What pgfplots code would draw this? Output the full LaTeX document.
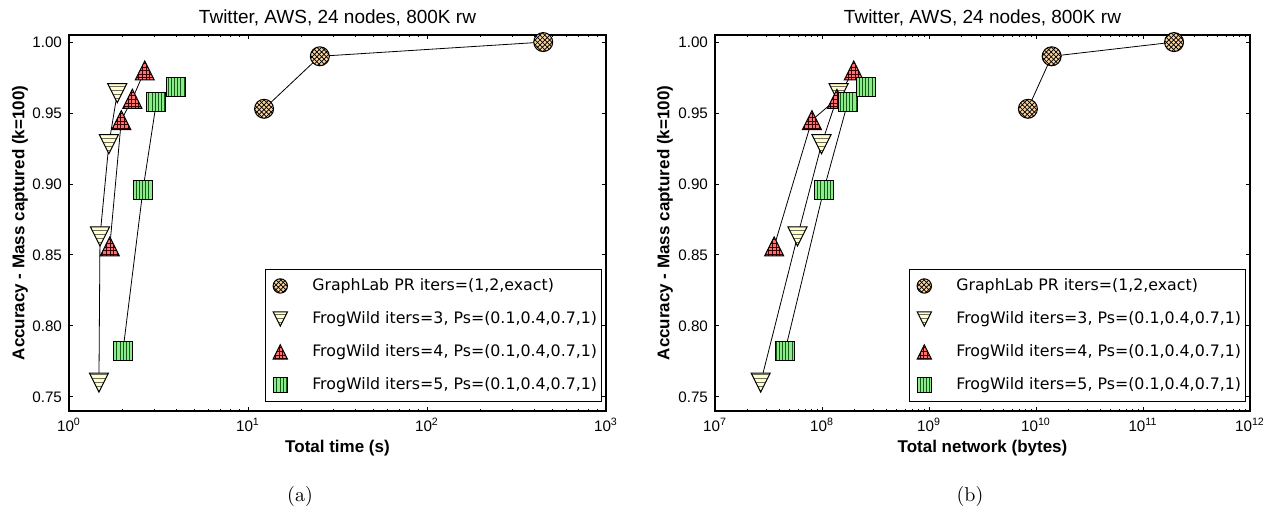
\documentclass[border=0pt]{standalone}
\usepackage{pgfplots}
\pgfplotsset{compat=1.18}
\usepackage{fontspec}
\usetikzlibrary{patterns}
\newfontfamily\arial{Liberation Sans}
\newfontfamily\dejavu{DejaVu Sans}

\definecolor{cGL}{RGB}{250,212,160}
\definecolor{cA}{RGB}{255,255,205}
\definecolor{cB}{RGB}{255,112,112}
\definecolor{cC}{RGB}{140,236,140}
\definecolor{hA}{RGB}{110,110,90}
\definecolor{hB}{RGB}{60,0,0}
\definecolor{hC}{RGB}{20,90,20}

\pgfdeclarepatternformonly{xh}{\pgfqpoint{-0.2pt}{-0.2pt}}{\pgfqpoint{2.6pt}{2.6pt}}{\pgfqpoint{2.4pt}{2.4pt}}{%
  \pgfsetlinewidth{0.35pt}%
  \pgfpathmoveto{\pgfqpoint{-0.2pt}{-0.2pt}}\pgfpathlineto{\pgfqpoint{2.6pt}{2.6pt}}%
  \pgfpathmoveto{\pgfqpoint{-0.2pt}{2.6pt}}\pgfpathlineto{\pgfqpoint{2.6pt}{-0.2pt}}%
  \pgfusepath{stroke}}
\pgfdeclarepatternformonly{hl}{\pgfqpoint{-0.1pt}{0pt}}{\pgfqpoint{2.1pt}{2pt}}{\pgfqpoint{2pt}{2pt}}{%
  \pgfsetlinewidth{0.35pt}\pgfpathmoveto{\pgfqpoint{-0.1pt}{1pt}}\pgfpathlineto{\pgfqpoint{2.1pt}{1pt}}\pgfusepath{stroke}}
\pgfdeclarepatternformonly{gr}{\pgfqpoint{-0.1pt}{-0.1pt}}{\pgfqpoint{1.9pt}{1.9pt}}{\pgfqpoint{1.8pt}{1.8pt}}{%
  \pgfsetlinewidth{0.3pt}\pgfpathmoveto{\pgfqpoint{-0.1pt}{0.9pt}}\pgfpathlineto{\pgfqpoint{1.9pt}{0.9pt}}%
  \pgfpathmoveto{\pgfqpoint{0.9pt}{-0.1pt}}\pgfpathlineto{\pgfqpoint{0.9pt}{1.9pt}}\pgfusepath{stroke}}
\pgfdeclarepatternformonly{vl}{\pgfqpoint{0pt}{-0.1pt}}{\pgfqpoint{1.6pt}{2.1pt}}{\pgfqpoint{1.6pt}{2pt}}{%
  \pgfsetlinewidth{0.35pt}\pgfpathmoveto{\pgfqpoint{0.8pt}{-0.1pt}}\pgfpathlineto{\pgfqpoint{0.8pt}{2.1pt}}\pgfusepath{stroke}}

\def\pcirc{\pgfpathcircle{\pgfpointorigin}{\pgfplotmarksize}}
\def\psq{\pgfpathrectangle{\pgfqpoint{-\pgfplotmarksize}{-\pgfplotmarksize}}{\pgfqpoint{2\pgfplotmarksize}{2\pgfplotmarksize}}}
\def\ptriu{\pgfpathmoveto{\pgfqpoint{0pt}{\pgfplotmarksize}}\pgfpathlineto{\pgfqpoint{-\pgfplotmarksize}{-\pgfplotmarksize}}\pgfpathlineto{\pgfqpoint{\pgfplotmarksize}{-\pgfplotmarksize}}\pgfpathclose}
\def\ptrid{\pgfpathmoveto{\pgfqpoint{0pt}{-\pgfplotmarksize}}\pgfpathlineto{\pgfqpoint{-\pgfplotmarksize}{\pgfplotmarksize}}\pgfpathlineto{\pgfqpoint{\pgfplotmarksize}{\pgfplotmarksize}}\pgfpathclose}

\newcommand\defmark[5]{\pgfdeclareplotmark{#1}{%
  \begin{pgfscope}#2\pgfsetfillcolor{#3}\pgfusepathqfill\end{pgfscope}%
  \begin{pgfscope}#2\pgfsetfillpattern{#4}{#5}\pgfusepathqfill\end{pgfscope}%
  \begin{pgfscope}#2\pgfsetlinewidth{0.5pt}\pgfsetstrokecolor{black}\pgfsetmiterjoin\pgfusepathqstroke\end{pgfscope}}}
\defmark{mGL}{\pcirc}{cGL}{xh}{black}
\defmark{mA}{\ptrid}{cA}{hl}{hA}
\defmark{mB}{\ptriu}{cB}{gr}{hB}
\defmark{mC}{\psq}{cC}{vl}{hC}

\pgfplotsset{
  legend image code/.code={\path[draw=none,fill=none] (0pt,-4pt) rectangle (21.5pt,4pt); \draw[#1,draw=none,mark size=3.6pt] plot coordinates {(7.5pt,0pt)};},
}

\begin{document}
\begin{tikzpicture}
\useasboundingbox (0pt,0pt) rectangle (631.5pt,254pt);
\begin{axis}[xmode=log, log basis x=10,
    scale only axis, height=188pt, width=268.5pt, at={(34.5pt,48.5pt)}, anchor=south west,
    xmin=1, xmax=1000, ymin=0.74, ymax=1.005,
    ytick={0.75,0.80,0.85,0.90,0.95,1.00},
    axis line style={black, line width=0.6pt},
    tick style={black, line width=0.45pt},
    major tick length=1.8pt, minor tick length=1.1pt,
    tick align=inside,
    tick label style={font=\arial\fontsize{7.6}{9}\selectfont},
    yticklabel style={/pgf/number format/.cd, fixed, fixed zerofill, precision=2, assume math mode=true},
    xticklabel={\pgfmathtruncatemacro\ee{round(\tick)}10\textsuperscript{\ee}},
    title style={at={(axis description cs:0.5,1)}, anchor=base, yshift=-0.5pt, font=\arial\fontsize{9.5}{11}\selectfont},
    xlabel style={at={(axis description cs:0.5,0)}, anchor=center, yshift=-18.35pt, font=\arial\bfseries\fontsize{8.5}{10}\selectfont},
    ylabel style={at={(axis description cs:-0.0912,0.5)}, anchor=center, font=\arial\bfseries\fontsize{8.5}{10}\selectfont},
    every axis plot/.append style={black, line width=0.4pt, mark size=4.75pt},
    legend style={at={(axis description cs:1,0)}, anchor=south east, xshift=-2.2pt, yshift=4.5pt,
      draw=black, line width=0.5pt, fill=white, inner xsep=0pt, inner ysep=2.5pt, row sep=5pt,
      font=\dejavu\fontsize{7.9}{9.5}\selectfont, cells={anchor=west}},
  title={Twitter, AWS, 24 nodes, 800K rw},
  xlabel={Total time (s)},
  ylabel={Accuracy - Mass captured (k=100)},
]
\addplot[mark=mGL] coordinates {(12.3,0.953) (25.2,0.990) (446,1.000)};
\addlegendentry{GraphLab PR iters=(1,2,exact)}
\addplot[mark=mA] coordinates {(1.47,0.760) (1.49,0.863) (1.67,0.928) (1.86,0.964)};
\addlegendentry{FrogWild iters=3, Ps=(0.1,0.4,0.7,1)}
\addplot[mark=mB] coordinates {(1.69,0.856) (1.96,0.945) (2.26,0.960) (2.65,0.980)};
\addlegendentry{FrogWild iters=4, Ps=(0.1,0.4,0.7,1)}
\addplot[mark=mC] coordinates {(2.00,0.782) (2.59,0.896) (3.08,0.958) (3.95,0.968)};
\addlegendentry{FrogWild iters=5, Ps=(0.1,0.4,0.7,1)}
\end{axis}
\begin{axis}[xmode=log, log basis x=10,
    scale only axis, height=188pt, width=267.5pt, at={(357.5pt,48.5pt)}, anchor=south west,
    xmin=1e7, xmax=1e12, ymin=0.74, ymax=1.005,
    ytick={0.75,0.80,0.85,0.90,0.95,1.00},
    axis line style={black, line width=0.6pt},
    tick style={black, line width=0.45pt},
    major tick length=1.8pt, minor tick length=1.1pt,
    tick align=inside,
    tick label style={font=\arial\fontsize{7.6}{9}\selectfont},
    yticklabel style={/pgf/number format/.cd, fixed, fixed zerofill, precision=2, assume math mode=true},
    xticklabel={\pgfmathtruncatemacro\ee{round(\tick)}10\textsuperscript{\ee}},
    title style={at={(axis description cs:0.5,1)}, anchor=base, yshift=-0.5pt, font=\arial\fontsize{9.5}{11}\selectfont},
    xlabel style={at={(axis description cs:0.5,0)}, anchor=center, yshift=-18.35pt, font=\arial\bfseries\fontsize{8.5}{10}\selectfont},
    ylabel style={at={(axis description cs:-0.0935,0.5)}, anchor=center, font=\arial\bfseries\fontsize{8.5}{10}\selectfont},
    every axis plot/.append style={black, line width=0.4pt, mark size=4.75pt},
    legend style={at={(axis description cs:1,0)}, anchor=south east, xshift=-2.2pt, yshift=4.5pt,
      draw=black, line width=0.5pt, fill=white, inner xsep=0pt, inner ysep=2.5pt, row sep=5pt,
      font=\dejavu\fontsize{7.9}{9.5}\selectfont, cells={anchor=west}},
  title={Twitter, AWS, 24 nodes, 800K rw},
  xlabel={Total network (bytes)},
  ylabel={Accuracy - Mass captured (k=100)},
]
\addplot[mark=mGL] coordinates {(8.4e9,0.953) (1.4e10,0.990) (1.95e11,1.000)};
\addlegendentry{GraphLab PR iters=(1,2,exact)}
\addplot[mark=mA] coordinates {(2.67e7,0.760) (5.9e7,0.863) (9.9e7,0.928) (1.43e8,0.964)};
\addlegendentry{FrogWild iters=3, Ps=(0.1,0.4,0.7,1)}
\addplot[mark=mB] coordinates {(3.57e7,0.856) (8.05e7,0.945) (1.38e8,0.960) (1.98e8,0.980)};
\addlegendentry{FrogWild iters=4, Ps=(0.1,0.4,0.7,1)}
\addplot[mark=mC] coordinates {(4.5e7,0.782) (1.04e8,0.896) (1.75e8,0.958) (2.55e8,0.968)};
\addlegendentry{FrogWild iters=5, Ps=(0.1,0.4,0.7,1)}
\end{axis}
\node at (150pt,5.5pt) {(a)};
\node at (485pt,5.5pt) {(b)};
\end{tikzpicture}
\end{document}
